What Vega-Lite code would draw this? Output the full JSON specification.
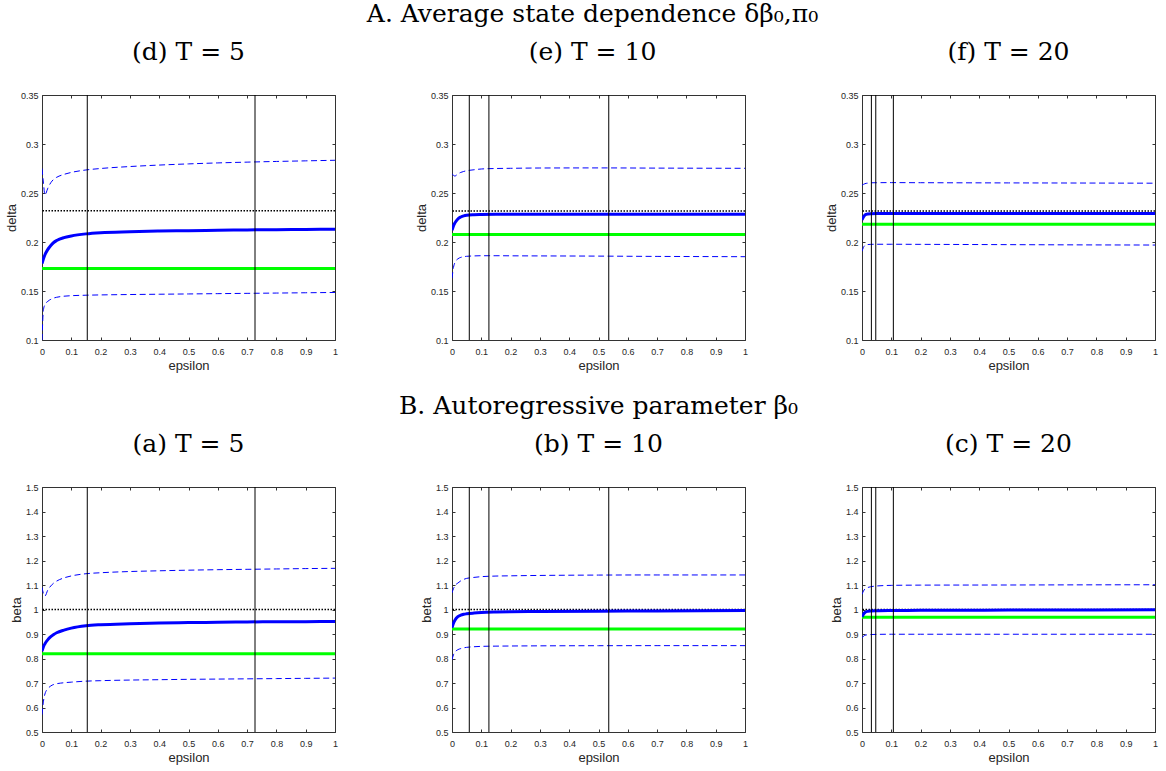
{
"$schema": "https://vega.github.io/schema/vega-lite/v6.json",
"padding": {"left": 5, "top": 2, "right": 5, "bottom": 5},
"background": "white",
"datasets": {
"curves": [
{"panel":"d","series":"mean","eps":0,"val":0.178},{"panel":"d","series":"mean","eps":0.005,"val":0.183},{"panel":"d","series":"mean","eps":0.01,"val":0.187},{"panel":"d","series":"mean","eps":0.02,"val":0.1925},{"panel":"d","series":"mean","eps":0.03,"val":0.1965},{"panel":"d","series":"mean","eps":0.04,"val":0.1995},{"panel":"d","series":"mean","eps":0.05,"val":0.2015},{"panel":"d","series":"mean","eps":0.075,"val":0.2045},{"panel":"d","series":"mean","eps":0.1,"val":0.2062},{"panel":"d","series":"mean","eps":0.15,"val":0.2083},{"panel":"d","series":"mean","eps":0.2,"val":0.2095},{"panel":"d","series":"mean","eps":0.3,"val":0.2105},{"panel":"d","series":"mean","eps":0.4,"val":0.2112},{"panel":"d","series":"mean","eps":0.5,"val":0.2116},{"panel":"d","series":"mean","eps":0.6,"val":0.212},{"panel":"d","series":"mean","eps":0.7,"val":0.2123},{"panel":"d","series":"mean","eps":0.8,"val":0.2126},{"panel":"d","series":"mean","eps":0.9,"val":0.2128},{"panel":"d","series":"mean","eps":1,"val":0.213},
{"panel":"d","series":"upper","eps":0,"val":0.275},{"panel":"d","series":"upper","eps":0.005,"val":0.26},{"panel":"d","series":"upper","eps":0.01,"val":0.248},{"panel":"d","series":"upper","eps":0.02,"val":0.255},{"panel":"d","series":"upper","eps":0.03,"val":0.2605},{"panel":"d","series":"upper","eps":0.04,"val":0.264},{"panel":"d","series":"upper","eps":0.05,"val":0.266},{"panel":"d","series":"upper","eps":0.075,"val":0.269},{"panel":"d","series":"upper","eps":0.1,"val":0.271},{"panel":"d","series":"upper","eps":0.15,"val":0.2735},{"panel":"d","series":"upper","eps":0.2,"val":0.275},{"panel":"d","series":"upper","eps":0.3,"val":0.277},{"panel":"d","series":"upper","eps":0.4,"val":0.2785},{"panel":"d","series":"upper","eps":0.5,"val":0.2797},{"panel":"d","series":"upper","eps":0.6,"val":0.2807},{"panel":"d","series":"upper","eps":0.7,"val":0.2815},{"panel":"d","series":"upper","eps":0.8,"val":0.2822},{"panel":"d","series":"upper","eps":0.9,"val":0.2828},{"panel":"d","series":"upper","eps":1,"val":0.2834},
{"panel":"d","series":"lower","eps":0,"val":0.1},{"panel":"d","series":"lower","eps":0.005,"val":0.131},{"panel":"d","series":"lower","eps":0.01,"val":0.136},{"panel":"d","series":"lower","eps":0.02,"val":0.1395},{"panel":"d","series":"lower","eps":0.03,"val":0.1415},{"panel":"d","series":"lower","eps":0.04,"val":0.1428},{"panel":"d","series":"lower","eps":0.05,"val":0.1436},{"panel":"d","series":"lower","eps":0.075,"val":0.1447},{"panel":"d","series":"lower","eps":0.1,"val":0.1452},{"panel":"d","series":"lower","eps":0.15,"val":0.1457},{"panel":"d","series":"lower","eps":0.2,"val":0.146},{"panel":"d","series":"lower","eps":0.3,"val":0.1464},{"panel":"d","series":"lower","eps":0.4,"val":0.1467},{"panel":"d","series":"lower","eps":0.5,"val":0.147},{"panel":"d","series":"lower","eps":0.6,"val":0.1473},{"panel":"d","series":"lower","eps":0.7,"val":0.1476},{"panel":"d","series":"lower","eps":0.8,"val":0.1479},{"panel":"d","series":"lower","eps":0.9,"val":0.1482},{"panel":"d","series":"lower","eps":1,"val":0.1485},
{"panel":"a","series":"mean","eps":0,"val":0.83},{"panel":"a","series":"mean","eps":0.005,"val":0.848},{"panel":"a","series":"mean","eps":0.01,"val":0.86},{"panel":"a","series":"mean","eps":0.02,"val":0.877},{"panel":"a","series":"mean","eps":0.03,"val":0.889},{"panel":"a","series":"mean","eps":0.04,"val":0.898},{"panel":"a","series":"mean","eps":0.05,"val":0.905},{"panel":"a","series":"mean","eps":0.075,"val":0.916},{"panel":"a","series":"mean","eps":0.1,"val":0.924},{"panel":"a","series":"mean","eps":0.15,"val":0.9335},{"panel":"a","series":"mean","eps":0.2,"val":0.938},{"panel":"a","series":"mean","eps":0.3,"val":0.942},{"panel":"a","series":"mean","eps":0.4,"val":0.9445},{"panel":"a","series":"mean","eps":0.5,"val":0.9465},{"panel":"a","series":"mean","eps":0.6,"val":0.948},{"panel":"a","series":"mean","eps":0.7,"val":0.9493},{"panel":"a","series":"mean","eps":0.8,"val":0.95},{"panel":"a","series":"mean","eps":0.9,"val":0.9505},{"panel":"a","series":"mean","eps":1,"val":0.951},
{"panel":"a","series":"upper","eps":0,"val":1.09},{"panel":"a","series":"upper","eps":0.005,"val":1.065},{"panel":"a","series":"upper","eps":0.01,"val":1.055},{"panel":"a","series":"upper","eps":0.02,"val":1.08},{"panel":"a","series":"upper","eps":0.03,"val":1.096},{"panel":"a","series":"upper","eps":0.04,"val":1.108},{"panel":"a","series":"upper","eps":0.05,"val":1.116},{"panel":"a","series":"upper","eps":0.075,"val":1.129},{"panel":"a","series":"upper","eps":0.1,"val":1.137},{"panel":"a","series":"upper","eps":0.15,"val":1.146},{"panel":"a","series":"upper","eps":0.2,"val":1.15},{"panel":"a","series":"upper","eps":0.3,"val":1.155},{"panel":"a","series":"upper","eps":0.4,"val":1.158},{"panel":"a","series":"upper","eps":0.5,"val":1.1605},{"panel":"a","series":"upper","eps":0.6,"val":1.1625},{"panel":"a","series":"upper","eps":0.7,"val":1.164},{"panel":"a","series":"upper","eps":0.8,"val":1.1655},{"panel":"a","series":"upper","eps":0.9,"val":1.167},{"panel":"a","series":"upper","eps":1,"val":1.168},
{"panel":"a","series":"lower","eps":0,"val":0.571},{"panel":"a","series":"lower","eps":0.005,"val":0.626},{"panel":"a","series":"lower","eps":0.01,"val":0.655},{"panel":"a","series":"lower","eps":0.02,"val":0.677},{"panel":"a","series":"lower","eps":0.03,"val":0.688},{"panel":"a","series":"lower","eps":0.04,"val":0.694},{"panel":"a","series":"lower","eps":0.05,"val":0.697},{"panel":"a","series":"lower","eps":0.075,"val":0.701},{"panel":"a","series":"lower","eps":0.1,"val":0.7035},{"panel":"a","series":"lower","eps":0.15,"val":0.7075},{"panel":"a","series":"lower","eps":0.2,"val":0.7095},{"panel":"a","series":"lower","eps":0.3,"val":0.712},{"panel":"a","series":"lower","eps":0.4,"val":0.7135},{"panel":"a","series":"lower","eps":0.5,"val":0.715},{"panel":"a","series":"lower","eps":0.6,"val":0.716},{"panel":"a","series":"lower","eps":0.7,"val":0.717},{"panel":"a","series":"lower","eps":0.8,"val":0.718},{"panel":"a","series":"lower","eps":0.9,"val":0.719},{"panel":"a","series":"lower","eps":1,"val":0.72},
{"panel":"e","series":"mean","eps":0,"val":0.212},{"panel":"e","series":"mean","eps":0.005,"val":0.2165},{"panel":"e","series":"mean","eps":0.01,"val":0.2195},{"panel":"e","series":"mean","eps":0.02,"val":0.2235},{"panel":"e","series":"mean","eps":0.03,"val":0.2255},{"panel":"e","series":"mean","eps":0.04,"val":0.2267},{"panel":"e","series":"mean","eps":0.05,"val":0.2273},{"panel":"e","series":"mean","eps":0.075,"val":0.2278},{"panel":"e","series":"mean","eps":0.1,"val":0.228},{"panel":"e","series":"mean","eps":0.15,"val":0.2282},{"panel":"e","series":"mean","eps":0.2,"val":0.2283},{"panel":"e","series":"mean","eps":0.3,"val":0.2283},{"panel":"e","series":"mean","eps":0.5,"val":0.2283},{"panel":"e","series":"mean","eps":0.7,"val":0.2283},{"panel":"e","series":"mean","eps":1,"val":0.2283},
{"panel":"e","series":"upper","eps":0,"val":0.2698},{"panel":"e","series":"upper","eps":0.005,"val":0.268},{"panel":"e","series":"upper","eps":0.01,"val":0.2673},{"panel":"e","series":"upper","eps":0.02,"val":0.2695},{"panel":"e","series":"upper","eps":0.03,"val":0.271},{"panel":"e","series":"upper","eps":0.04,"val":0.272},{"panel":"e","series":"upper","eps":0.05,"val":0.2727},{"panel":"e","series":"upper","eps":0.075,"val":0.2737},{"panel":"e","series":"upper","eps":0.1,"val":0.2745},{"panel":"e","series":"upper","eps":0.15,"val":0.275},{"panel":"e","series":"upper","eps":0.2,"val":0.2752},{"panel":"e","series":"upper","eps":0.3,"val":0.2755},{"panel":"e","series":"upper","eps":0.5,"val":0.2756},{"panel":"e","series":"upper","eps":0.7,"val":0.2754},{"panel":"e","series":"upper","eps":1,"val":0.2752},
{"panel":"e","series":"lower","eps":0,"val":0.163},{"panel":"e","series":"lower","eps":0.005,"val":0.174},{"panel":"e","series":"lower","eps":0.01,"val":0.179},{"panel":"e","series":"lower","eps":0.02,"val":0.1828},{"panel":"e","series":"lower","eps":0.03,"val":0.1843},{"panel":"e","series":"lower","eps":0.04,"val":0.185},{"panel":"e","series":"lower","eps":0.05,"val":0.1854},{"panel":"e","series":"lower","eps":0.075,"val":0.1858},{"panel":"e","series":"lower","eps":0.1,"val":0.186},{"panel":"e","series":"lower","eps":0.15,"val":0.186},{"panel":"e","series":"lower","eps":0.2,"val":0.1859},{"panel":"e","series":"lower","eps":0.3,"val":0.1858},{"panel":"e","series":"lower","eps":0.5,"val":0.1856},{"panel":"e","series":"lower","eps":0.7,"val":0.1853},{"panel":"e","series":"lower","eps":1,"val":0.185},
{"panel":"b","series":"mean","eps":0,"val":0.926},{"panel":"b","series":"mean","eps":0.005,"val":0.944},{"panel":"b","series":"mean","eps":0.01,"val":0.956},{"panel":"b","series":"mean","eps":0.02,"val":0.9705},{"panel":"b","series":"mean","eps":0.03,"val":0.977},{"panel":"b","series":"mean","eps":0.04,"val":0.9805},{"panel":"b","series":"mean","eps":0.05,"val":0.9825},{"panel":"b","series":"mean","eps":0.075,"val":0.9855},{"panel":"b","series":"mean","eps":0.1,"val":0.9875},{"panel":"b","series":"mean","eps":0.15,"val":0.9895},{"panel":"b","series":"mean","eps":0.2,"val":0.9905},{"panel":"b","series":"mean","eps":0.3,"val":0.9918},{"panel":"b","series":"mean","eps":0.5,"val":0.993},{"panel":"b","series":"mean","eps":0.7,"val":0.9942},{"panel":"b","series":"mean","eps":1,"val":0.9955},
{"panel":"b","series":"upper","eps":0,"val":1.068},{"panel":"b","series":"upper","eps":0.005,"val":1.085},{"panel":"b","series":"upper","eps":0.01,"val":1.097},{"panel":"b","series":"upper","eps":0.02,"val":1.108},{"panel":"b","series":"upper","eps":0.03,"val":1.117},{"panel":"b","series":"upper","eps":0.04,"val":1.123},{"panel":"b","series":"upper","eps":0.05,"val":1.127},{"panel":"b","series":"upper","eps":0.075,"val":1.131},{"panel":"b","series":"upper","eps":0.1,"val":1.134},{"panel":"b","series":"upper","eps":0.15,"val":1.1365},{"panel":"b","series":"upper","eps":0.2,"val":1.1375},{"panel":"b","series":"upper","eps":0.3,"val":1.139},{"panel":"b","series":"upper","eps":0.5,"val":1.1405},{"panel":"b","series":"upper","eps":0.7,"val":1.141},{"panel":"b","series":"upper","eps":1,"val":1.141},
{"panel":"b","series":"lower","eps":0,"val":0.795},{"panel":"b","series":"lower","eps":0.005,"val":0.815},{"panel":"b","series":"lower","eps":0.01,"val":0.826},{"panel":"b","series":"lower","eps":0.02,"val":0.836},{"panel":"b","series":"lower","eps":0.03,"val":0.8405},{"panel":"b","series":"lower","eps":0.04,"val":0.8435},{"panel":"b","series":"lower","eps":0.05,"val":0.8455},{"panel":"b","series":"lower","eps":0.075,"val":0.848},{"panel":"b","series":"lower","eps":0.1,"val":0.8495},{"panel":"b","series":"lower","eps":0.15,"val":0.8505},{"panel":"b","series":"lower","eps":0.2,"val":0.851},{"panel":"b","series":"lower","eps":0.3,"val":0.8517},{"panel":"b","series":"lower","eps":0.5,"val":0.8522},{"panel":"b","series":"lower","eps":0.7,"val":0.8525},{"panel":"b","series":"lower","eps":1,"val":0.8525},
{"panel":"f","series":"mean","eps":0,"val":0.2225},{"panel":"f","series":"mean","eps":0.005,"val":0.2255},{"panel":"f","series":"mean","eps":0.01,"val":0.2275},{"panel":"f","series":"mean","eps":0.02,"val":0.2286},{"panel":"f","series":"mean","eps":0.03,"val":0.2289},{"panel":"f","series":"mean","eps":0.05,"val":0.229},{"panel":"f","series":"mean","eps":0.1,"val":0.229},{"panel":"f","series":"mean","eps":0.2,"val":0.229},{"panel":"f","series":"mean","eps":0.5,"val":0.229},{"panel":"f","series":"mean","eps":0.7,"val":0.229},{"panel":"f","series":"mean","eps":1,"val":0.229},
{"panel":"f","series":"upper","eps":0,"val":0.2579},{"panel":"f","series":"upper","eps":0.005,"val":0.2588},{"panel":"f","series":"upper","eps":0.01,"val":0.2595},{"panel":"f","series":"upper","eps":0.02,"val":0.2601},{"panel":"f","series":"upper","eps":0.03,"val":0.2604},{"panel":"f","series":"upper","eps":0.05,"val":0.2605},{"panel":"f","series":"upper","eps":0.1,"val":0.2606},{"panel":"f","series":"upper","eps":0.2,"val":0.2605},{"panel":"f","series":"upper","eps":0.5,"val":0.2603},{"panel":"f","series":"upper","eps":0.7,"val":0.2602},{"panel":"f","series":"upper","eps":1,"val":0.26},
{"panel":"f","series":"lower","eps":0,"val":0.1905},{"panel":"f","series":"lower","eps":0.005,"val":0.1945},{"panel":"f","series":"lower","eps":0.01,"val":0.1965},{"panel":"f","series":"lower","eps":0.02,"val":0.1974},{"panel":"f","series":"lower","eps":0.03,"val":0.1976},{"panel":"f","series":"lower","eps":0.05,"val":0.1977},{"panel":"f","series":"lower","eps":0.1,"val":0.1977},{"panel":"f","series":"lower","eps":0.2,"val":0.1976},{"panel":"f","series":"lower","eps":0.5,"val":0.1973},{"panel":"f","series":"lower","eps":0.7,"val":0.1971},{"panel":"f","series":"lower","eps":1,"val":0.1969},
{"panel":"c","series":"mean","eps":0,"val":0.97},{"panel":"c","series":"mean","eps":0.005,"val":0.981},{"panel":"c","series":"mean","eps":0.01,"val":0.988},{"panel":"c","series":"mean","eps":0.02,"val":0.9925},{"panel":"c","series":"mean","eps":0.03,"val":0.9938},{"panel":"c","series":"mean","eps":0.05,"val":0.9948},{"panel":"c","series":"mean","eps":0.1,"val":0.9958},{"panel":"c","series":"mean","eps":0.2,"val":0.9965},{"panel":"c","series":"mean","eps":0.5,"val":0.9975},{"panel":"c","series":"mean","eps":0.7,"val":0.998},{"panel":"c","series":"mean","eps":1,"val":0.9986},
{"panel":"c","series":"upper","eps":0,"val":1.062},{"panel":"c","series":"upper","eps":0.005,"val":1.075},{"panel":"c","series":"upper","eps":0.01,"val":1.084},{"panel":"c","series":"upper","eps":0.02,"val":1.09},{"panel":"c","series":"upper","eps":0.03,"val":1.093},{"panel":"c","series":"upper","eps":0.05,"val":1.096},{"panel":"c","series":"upper","eps":0.1,"val":1.0985},{"panel":"c","series":"upper","eps":0.2,"val":1.0995},{"panel":"c","series":"upper","eps":0.5,"val":1.1},{"panel":"c","series":"upper","eps":0.7,"val":1.1005},{"panel":"c","series":"upper","eps":1,"val":1.101},
{"panel":"c","series":"lower","eps":0,"val":0.884},{"panel":"c","series":"lower","eps":0.005,"val":0.891},{"panel":"c","series":"lower","eps":0.01,"val":0.895},{"panel":"c","series":"lower","eps":0.02,"val":0.897},{"panel":"c","series":"lower","eps":0.03,"val":0.8978},{"panel":"c","series":"lower","eps":0.05,"val":0.8985},{"panel":"c","series":"lower","eps":0.1,"val":0.899},{"panel":"c","series":"lower","eps":0.2,"val":0.899},{"panel":"c","series":"lower","eps":0.5,"val":0.899},{"panel":"c","series":"lower","eps":0.7,"val":0.899},{"panel":"c","series":"lower","eps":1,"val":0.899}
],
"hlines": [
{"panel":"d","kind":"estimate","val":0.173},{"panel":"d","kind":"truth","val":0.232},
{"panel":"e","kind":"estimate","val":0.2077},{"panel":"e","kind":"truth","val":0.2316},
{"panel":"f","kind":"estimate","val":0.2182},{"panel":"f","kind":"truth","val":0.2316},
{"panel":"a","kind":"estimate","val":0.8197},{"panel":"a","kind":"truth","val":1.0},
{"panel":"b","kind":"estimate","val":0.9206},{"panel":"b","kind":"truth","val":1.0},
{"panel":"c","kind":"estimate","val":0.9686},{"panel":"c","kind":"truth","val":1.0}
],
"vlines": [
{"panel":"d","eps":0.1545},{"panel":"d","eps":0.727},
{"panel":"e","eps":0.059},{"panel":"e","eps":0.126},{"panel":"e","eps":0.535},
{"panel":"f","eps":0.032},{"panel":"f","eps":0.047},{"panel":"f","eps":0.107},
{"panel":"a","eps":0.1545},{"panel":"a","eps":0.727},
{"panel":"b","eps":0.059},{"panel":"b","eps":0.126},{"panel":"b","eps":0.535},
{"panel":"c","eps":0.032},{"panel":"c","eps":0.047},{"panel":"c","eps":0.107}
]
},
"columns": 3,
"spacing": {"row": 147, "column": 117},
"bounds": "flush",
"concat": [
{"width": 293, "height": 245, "title": {"text": "(d) T = 5"},
 "layer": [
  {"data": {"name": "hlines"}, "transform": [{"filter": "datum.panel == 'd' && datum.kind == 'estimate'"}], "mark": {"type": "rule", "color": "#00ff00", "strokeWidth": 3}, "encoding": {"y": {"field": "val", "type": "quantitative", "scale": {"domain": [0.1, 0.35], "nice": false, "zero": false}, "axis": {"orient": "right", "labels": false, "title": null, "values": [0.1, 0.15, 0.2, 0.25, 0.3, 0.35]}}}},
  {"data": {"name": "hlines"}, "transform": [{"filter": "datum.panel == 'd' && datum.kind == 'truth'"}], "mark": {"type": "rule", "color": "#000000", "strokeWidth": 1.5, "strokeDash": [1.5, 1.5]}, "encoding": {"y": {"field": "val", "type": "quantitative", "scale": {"domain": [0.1, 0.35], "nice": false, "zero": false}, "axis": null}}},
  {"data": {"name": "curves"}, "transform": [{"filter": "datum.panel == 'd' && datum.series != 'mean'"}], "mark": {"type": "line", "color": "#0000ff", "strokeWidth": 1, "strokeDash": [6, 3.5], "interpolate": "monotone", "clip": true}, "encoding": {"x": {"field": "eps", "type": "quantitative", "scale": {"domain": [0, 1], "nice": false}, "axis": null}, "y": {"field": "val", "type": "quantitative", "scale": {"domain": [0.1, 0.35], "nice": false, "zero": false}, "axis": null}, "detail": {"field": "series"}}},
  {"data": {"name": "curves"}, "transform": [{"filter": "datum.panel == 'd' && datum.series == 'mean'"}], "mark": {"type": "line", "color": "#0000ff", "strokeWidth": 3, "interpolate": "monotone", "clip": true}, "encoding": {"x": {"field": "eps", "type": "quantitative", "scale": {"domain": [0, 1], "nice": false}, "axis": {"title": "epsilon", "values": [0, 0.1, 0.2, 0.3, 0.4, 0.5, 0.6, 0.7, 0.8, 0.9, 1]}}, "y": {"field": "val", "type": "quantitative", "scale": {"domain": [0.1, 0.35], "nice": false, "zero": false}, "axis": {"title": "delta", "values": [0.1, 0.15, 0.2, 0.25, 0.3, 0.35]}}}},
  {"data": {"name": "vlines"}, "transform": [{"filter": "datum.panel == 'd'"}], "mark": {"type": "rule", "color": "#000000", "strokeWidth": 1}, "encoding": {"x": {"field": "eps", "type": "quantitative", "scale": {"domain": [0, 1], "nice": false}, "axis": {"orient": "top", "labels": false, "title": null, "values": [0, 0.1, 0.2, 0.3, 0.4, 0.5, 0.6, 0.7, 0.8, 0.9, 1]}}}}
 ],
 "resolve": {"axis": {"x": "independent", "y": "independent"}}
},
{"width": 293, "height": 245, "title": {"text": ["A. Average state dependence δβ₀,π₀", "(e) T = 10"], "dx": -6},
 "layer": [
  {"data": {"name": "hlines"}, "transform": [{"filter": "datum.panel == 'e' && datum.kind == 'estimate'"}], "mark": {"type": "rule", "color": "#00ff00", "strokeWidth": 3}, "encoding": {"y": {"field": "val", "type": "quantitative", "scale": {"domain": [0.1, 0.35], "nice": false, "zero": false}, "axis": {"orient": "right", "labels": false, "title": null, "values": [0.1, 0.15, 0.2, 0.25, 0.3, 0.35]}}}},
  {"data": {"name": "hlines"}, "transform": [{"filter": "datum.panel == 'e' && datum.kind == 'truth'"}], "mark": {"type": "rule", "color": "#000000", "strokeWidth": 1.5, "strokeDash": [1.5, 1.5]}, "encoding": {"y": {"field": "val", "type": "quantitative", "scale": {"domain": [0.1, 0.35], "nice": false, "zero": false}, "axis": null}}},
  {"data": {"name": "curves"}, "transform": [{"filter": "datum.panel == 'e' && datum.series != 'mean'"}], "mark": {"type": "line", "color": "#0000ff", "strokeWidth": 1, "strokeDash": [6, 3.5], "interpolate": "monotone", "clip": true}, "encoding": {"x": {"field": "eps", "type": "quantitative", "scale": {"domain": [0, 1], "nice": false}, "axis": null}, "y": {"field": "val", "type": "quantitative", "scale": {"domain": [0.1, 0.35], "nice": false, "zero": false}, "axis": null}, "detail": {"field": "series"}}},
  {"data": {"name": "curves"}, "transform": [{"filter": "datum.panel == 'e' && datum.series == 'mean'"}], "mark": {"type": "line", "color": "#0000ff", "strokeWidth": 3, "interpolate": "monotone", "clip": true}, "encoding": {"x": {"field": "eps", "type": "quantitative", "scale": {"domain": [0, 1], "nice": false}, "axis": {"title": "epsilon", "values": [0, 0.1, 0.2, 0.3, 0.4, 0.5, 0.6, 0.7, 0.8, 0.9, 1]}}, "y": {"field": "val", "type": "quantitative", "scale": {"domain": [0.1, 0.35], "nice": false, "zero": false}, "axis": {"title": "delta", "values": [0.1, 0.15, 0.2, 0.25, 0.3, 0.35]}}}},
  {"data": {"name": "vlines"}, "transform": [{"filter": "datum.panel == 'e'"}], "mark": {"type": "rule", "color": "#000000", "strokeWidth": 1}, "encoding": {"x": {"field": "eps", "type": "quantitative", "scale": {"domain": [0, 1], "nice": false}, "axis": {"orient": "top", "labels": false, "title": null, "values": [0, 0.1, 0.2, 0.3, 0.4, 0.5, 0.6, 0.7, 0.8, 0.9, 1]}}}}
 ],
 "resolve": {"axis": {"x": "independent", "y": "independent"}}
},
{"width": 293, "height": 245, "title": {"text": "(f) T = 20"},
 "layer": [
  {"data": {"name": "hlines"}, "transform": [{"filter": "datum.panel == 'f' && datum.kind == 'estimate'"}], "mark": {"type": "rule", "color": "#00ff00", "strokeWidth": 3}, "encoding": {"y": {"field": "val", "type": "quantitative", "scale": {"domain": [0.1, 0.35], "nice": false, "zero": false}, "axis": {"orient": "right", "labels": false, "title": null, "values": [0.1, 0.15, 0.2, 0.25, 0.3, 0.35]}}}},
  {"data": {"name": "hlines"}, "transform": [{"filter": "datum.panel == 'f' && datum.kind == 'truth'"}], "mark": {"type": "rule", "color": "#000000", "strokeWidth": 1.5, "strokeDash": [1.5, 1.5]}, "encoding": {"y": {"field": "val", "type": "quantitative", "scale": {"domain": [0.1, 0.35], "nice": false, "zero": false}, "axis": null}}},
  {"data": {"name": "curves"}, "transform": [{"filter": "datum.panel == 'f' && datum.series != 'mean'"}], "mark": {"type": "line", "color": "#0000ff", "strokeWidth": 1, "strokeDash": [6, 3.5], "interpolate": "monotone", "clip": true}, "encoding": {"x": {"field": "eps", "type": "quantitative", "scale": {"domain": [0, 1], "nice": false}, "axis": null}, "y": {"field": "val", "type": "quantitative", "scale": {"domain": [0.1, 0.35], "nice": false, "zero": false}, "axis": null}, "detail": {"field": "series"}}},
  {"data": {"name": "curves"}, "transform": [{"filter": "datum.panel == 'f' && datum.series == 'mean'"}], "mark": {"type": "line", "color": "#0000ff", "strokeWidth": 3, "interpolate": "monotone", "clip": true}, "encoding": {"x": {"field": "eps", "type": "quantitative", "scale": {"domain": [0, 1], "nice": false}, "axis": {"title": "epsilon", "values": [0, 0.1, 0.2, 0.3, 0.4, 0.5, 0.6, 0.7, 0.8, 0.9, 1]}}, "y": {"field": "val", "type": "quantitative", "scale": {"domain": [0.1, 0.35], "nice": false, "zero": false}, "axis": {"title": "delta", "values": [0.1, 0.15, 0.2, 0.25, 0.3, 0.35]}}}},
  {"data": {"name": "vlines"}, "transform": [{"filter": "datum.panel == 'f'"}], "mark": {"type": "rule", "color": "#000000", "strokeWidth": 1}, "encoding": {"x": {"field": "eps", "type": "quantitative", "scale": {"domain": [0, 1], "nice": false}, "axis": {"orient": "top", "labels": false, "title": null, "values": [0, 0.1, 0.2, 0.3, 0.4, 0.5, 0.6, 0.7, 0.8, 0.9, 1]}}}}
 ],
 "resolve": {"axis": {"x": "independent", "y": "independent"}}
},
{"width": 293, "height": 245, "title": {"text": "(a) T = 5"},
 "layer": [
  {"data": {"name": "hlines"}, "transform": [{"filter": "datum.panel == 'a' && datum.kind == 'estimate'"}], "mark": {"type": "rule", "color": "#00ff00", "strokeWidth": 3}, "encoding": {"y": {"field": "val", "type": "quantitative", "scale": {"domain": [0.5, 1.5], "nice": false, "zero": false}, "axis": {"orient": "right", "labels": false, "title": null, "values": [0.5, 0.6, 0.7, 0.8, 0.9, 1, 1.1, 1.2, 1.3, 1.4, 1.5]}}}},
  {"data": {"name": "hlines"}, "transform": [{"filter": "datum.panel == 'a' && datum.kind == 'truth'"}], "mark": {"type": "rule", "color": "#000000", "strokeWidth": 1.5, "strokeDash": [1.5, 1.5]}, "encoding": {"y": {"field": "val", "type": "quantitative", "scale": {"domain": [0.5, 1.5], "nice": false, "zero": false}, "axis": null}}},
  {"data": {"name": "curves"}, "transform": [{"filter": "datum.panel == 'a' && datum.series != 'mean'"}], "mark": {"type": "line", "color": "#0000ff", "strokeWidth": 1, "strokeDash": [6, 3.5], "interpolate": "monotone", "clip": true}, "encoding": {"x": {"field": "eps", "type": "quantitative", "scale": {"domain": [0, 1], "nice": false}, "axis": null}, "y": {"field": "val", "type": "quantitative", "scale": {"domain": [0.5, 1.5], "nice": false, "zero": false}, "axis": null}, "detail": {"field": "series"}}},
  {"data": {"name": "curves"}, "transform": [{"filter": "datum.panel == 'a' && datum.series == 'mean'"}], "mark": {"type": "line", "color": "#0000ff", "strokeWidth": 3, "interpolate": "monotone", "clip": true}, "encoding": {"x": {"field": "eps", "type": "quantitative", "scale": {"domain": [0, 1], "nice": false}, "axis": {"title": "epsilon", "values": [0, 0.1, 0.2, 0.3, 0.4, 0.5, 0.6, 0.7, 0.8, 0.9, 1]}}, "y": {"field": "val", "type": "quantitative", "scale": {"domain": [0.5, 1.5], "nice": false, "zero": false}, "axis": {"title": "beta", "values": [0.5, 0.6, 0.7, 0.8, 0.9, 1, 1.1, 1.2, 1.3, 1.4, 1.5]}}}},
  {"data": {"name": "vlines"}, "transform": [{"filter": "datum.panel == 'a'"}], "mark": {"type": "rule", "color": "#000000", "strokeWidth": 1}, "encoding": {"x": {"field": "eps", "type": "quantitative", "scale": {"domain": [0, 1], "nice": false}, "axis": {"orient": "top", "labels": false, "title": null, "values": [0, 0.1, 0.2, 0.3, 0.4, 0.5, 0.6, 0.7, 0.8, 0.9, 1]}}}}
 ],
 "resolve": {"axis": {"x": "independent", "y": "independent"}}
},
{"width": 293, "height": 245, "title": {"text": ["B. Autoregressive parameter β₀", "(b) T = 10"]},
 "layer": [
  {"data": {"name": "hlines"}, "transform": [{"filter": "datum.panel == 'b' && datum.kind == 'estimate'"}], "mark": {"type": "rule", "color": "#00ff00", "strokeWidth": 3}, "encoding": {"y": {"field": "val", "type": "quantitative", "scale": {"domain": [0.5, 1.5], "nice": false, "zero": false}, "axis": {"orient": "right", "labels": false, "title": null, "values": [0.5, 0.6, 0.7, 0.8, 0.9, 1, 1.1, 1.2, 1.3, 1.4, 1.5]}}}},
  {"data": {"name": "hlines"}, "transform": [{"filter": "datum.panel == 'b' && datum.kind == 'truth'"}], "mark": {"type": "rule", "color": "#000000", "strokeWidth": 1.5, "strokeDash": [1.5, 1.5]}, "encoding": {"y": {"field": "val", "type": "quantitative", "scale": {"domain": [0.5, 1.5], "nice": false, "zero": false}, "axis": null}}},
  {"data": {"name": "curves"}, "transform": [{"filter": "datum.panel == 'b' && datum.series != 'mean'"}], "mark": {"type": "line", "color": "#0000ff", "strokeWidth": 1, "strokeDash": [6, 3.5], "interpolate": "monotone", "clip": true}, "encoding": {"x": {"field": "eps", "type": "quantitative", "scale": {"domain": [0, 1], "nice": false}, "axis": null}, "y": {"field": "val", "type": "quantitative", "scale": {"domain": [0.5, 1.5], "nice": false, "zero": false}, "axis": null}, "detail": {"field": "series"}}},
  {"data": {"name": "curves"}, "transform": [{"filter": "datum.panel == 'b' && datum.series == 'mean'"}], "mark": {"type": "line", "color": "#0000ff", "strokeWidth": 3, "interpolate": "monotone", "clip": true}, "encoding": {"x": {"field": "eps", "type": "quantitative", "scale": {"domain": [0, 1], "nice": false}, "axis": {"title": "epsilon", "values": [0, 0.1, 0.2, 0.3, 0.4, 0.5, 0.6, 0.7, 0.8, 0.9, 1]}}, "y": {"field": "val", "type": "quantitative", "scale": {"domain": [0.5, 1.5], "nice": false, "zero": false}, "axis": {"title": "beta", "values": [0.5, 0.6, 0.7, 0.8, 0.9, 1, 1.1, 1.2, 1.3, 1.4, 1.5]}}}},
  {"data": {"name": "vlines"}, "transform": [{"filter": "datum.panel == 'b'"}], "mark": {"type": "rule", "color": "#000000", "strokeWidth": 1}, "encoding": {"x": {"field": "eps", "type": "quantitative", "scale": {"domain": [0, 1], "nice": false}, "axis": {"orient": "top", "labels": false, "title": null, "values": [0, 0.1, 0.2, 0.3, 0.4, 0.5, 0.6, 0.7, 0.8, 0.9, 1]}}}}
 ],
 "resolve": {"axis": {"x": "independent", "y": "independent"}}
},
{"width": 293, "height": 245, "title": {"text": "(c) T = 20"},
 "layer": [
  {"data": {"name": "hlines"}, "transform": [{"filter": "datum.panel == 'c' && datum.kind == 'estimate'"}], "mark": {"type": "rule", "color": "#00ff00", "strokeWidth": 3}, "encoding": {"y": {"field": "val", "type": "quantitative", "scale": {"domain": [0.5, 1.5], "nice": false, "zero": false}, "axis": {"orient": "right", "labels": false, "title": null, "values": [0.5, 0.6, 0.7, 0.8, 0.9, 1, 1.1, 1.2, 1.3, 1.4, 1.5]}}}},
  {"data": {"name": "hlines"}, "transform": [{"filter": "datum.panel == 'c' && datum.kind == 'truth'"}], "mark": {"type": "rule", "color": "#000000", "strokeWidth": 1.5, "strokeDash": [1.5, 1.5]}, "encoding": {"y": {"field": "val", "type": "quantitative", "scale": {"domain": [0.5, 1.5], "nice": false, "zero": false}, "axis": null}}},
  {"data": {"name": "curves"}, "transform": [{"filter": "datum.panel == 'c' && datum.series != 'mean'"}], "mark": {"type": "line", "color": "#0000ff", "strokeWidth": 1, "strokeDash": [6, 3.5], "interpolate": "monotone", "clip": true}, "encoding": {"x": {"field": "eps", "type": "quantitative", "scale": {"domain": [0, 1], "nice": false}, "axis": null}, "y": {"field": "val", "type": "quantitative", "scale": {"domain": [0.5, 1.5], "nice": false, "zero": false}, "axis": null}, "detail": {"field": "series"}}},
  {"data": {"name": "curves"}, "transform": [{"filter": "datum.panel == 'c' && datum.series == 'mean'"}], "mark": {"type": "line", "color": "#0000ff", "strokeWidth": 3, "interpolate": "monotone", "clip": true}, "encoding": {"x": {"field": "eps", "type": "quantitative", "scale": {"domain": [0, 1], "nice": false}, "axis": {"title": "epsilon", "values": [0, 0.1, 0.2, 0.3, 0.4, 0.5, 0.6, 0.7, 0.8, 0.9, 1]}}, "y": {"field": "val", "type": "quantitative", "scale": {"domain": [0.5, 1.5], "nice": false, "zero": false}, "axis": {"title": "beta", "values": [0.5, 0.6, 0.7, 0.8, 0.9, 1, 1.1, 1.2, 1.3, 1.4, 1.5]}}}},
  {"data": {"name": "vlines"}, "transform": [{"filter": "datum.panel == 'c'"}], "mark": {"type": "rule", "color": "#000000", "strokeWidth": 1}, "encoding": {"x": {"field": "eps", "type": "quantitative", "scale": {"domain": [0, 1], "nice": false}, "axis": {"orient": "top", "labels": false, "title": null, "values": [0, 0.1, 0.2, 0.3, 0.4, 0.5, 0.6, 0.7, 0.8, 0.9, 1]}}}}
 ],
 "resolve": {"axis": {"x": "independent", "y": "independent"}}
}
],
"config": {
 "view": {"stroke": null},
 "axis": {"grid": false, "domainColor": "#333333", "domainWidth": 1, "tickColor": "#333333", "tickWidth": 1, "tickSize": -3, "labelFont": "Liberation Sans", "labelFontSize": 9, "labelColor": "#262626", "titleFont": "Liberation Sans", "titleFontSize": 13, "titleFontWeight": "normal", "titleColor": "#262626", "labelFlush": false, "labelOverlap": false, "format": "~g"},
 "axisX": {"labelPadding": 10, "titlePadding": 3},
 "axisY": {"labelPadding": 7, "titlePadding": 2},
 "title": {"font": "DejaVu Serif", "fontSize": 25, "fontWeight": "normal", "color": "#000000", "lineHeight": 38, "offset": 26, "anchor": "middle"}
}
}
